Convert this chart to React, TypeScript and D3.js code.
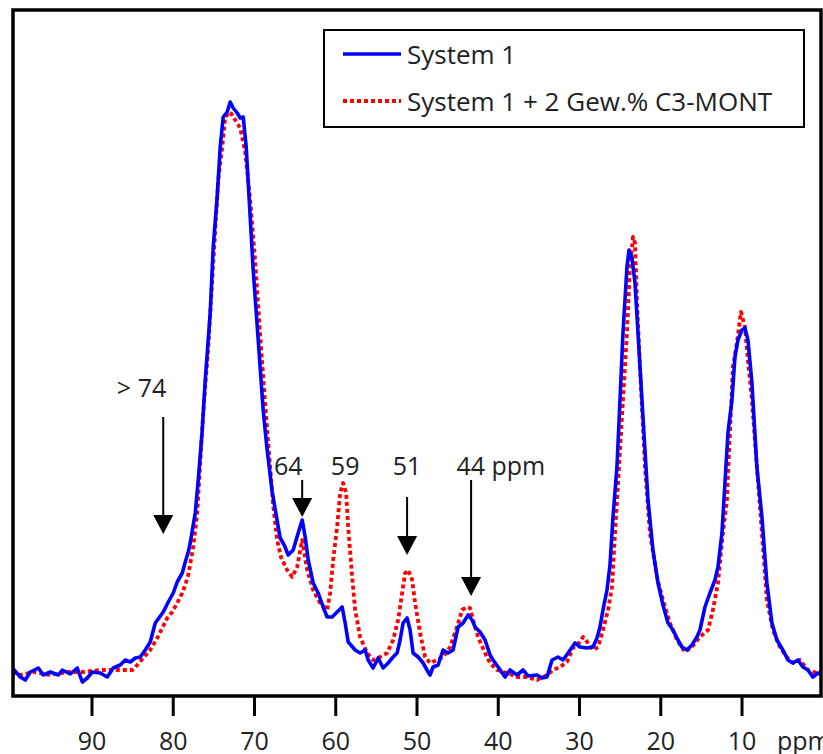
import React from 'react';
import * as d3 from 'd3';

// System 1 (blue, solid) — chemical shift (ppm) and intensity (a.u.)
const system1Ppm = [
  99.8, 98.82, 98.2, 97.59, 96.6, 95.99, 95.13, 94.14, 93.65, 92.67, 91.81, 91.19, 90.58, 89.96, 88.98, 88.12,
  87.38, 86.52, 85.9, 85.29, 84.67, 84.06, 83.44, 82.83, 82.21, 81.23, 80.61, 80.0, 79.51, 78.89, 78.52, 78.15,
  77.91, 77.29, 76.92, 76.43, 76.06, 75.45, 75.08, 74.59, 74.22, 73.85, 73.36, 72.99, 72.62, 72.13, 71.76, 71.39,
  71.02, 70.65, 70.16, 69.54, 68.93, 68.44, 67.82, 67.33, 66.84, 66.34, 65.85, 65.24, 64.62, 64.13, 63.76, 63.39,
  62.78, 62.16, 61.55, 61.06, 60.44, 59.83, 59.21, 58.84, 58.47, 57.61, 57.0, 56.38, 56.01, 55.4, 54.78, 54.17,
  53.55, 52.94, 52.45, 52.08, 51.71, 51.22, 50.85, 50.48, 49.86, 49.25, 48.63, 48.39, 48.02, 47.4, 46.79, 46.17,
  45.56, 44.94, 44.33, 43.71, 43.22, 42.85, 42.24, 41.62, 41.01, 40.64, 40.02, 39.16, 38.55, 37.69, 36.95, 36.33,
  35.23, 34.61, 34.0, 33.38, 32.64, 32.03, 31.41, 30.55, 29.94, 29.08, 28.34, 27.85, 27.48, 27.11, 26.62, 26.25,
  25.88, 25.39, 25.02, 24.65, 24.16, 23.91, 23.54, 23.17, 22.8, 22.19, 21.57, 20.96, 20.34, 19.73, 19.11, 18.5,
  17.88, 17.39, 16.78, 16.16, 15.55, 15.18, 14.56, 13.95, 13.33, 12.96, 12.47, 12.1, 11.73, 11.24, 10.87, 10.5,
  10.01, 9.64, 9.27, 8.78, 8.17, 7.55, 6.94, 6.32, 5.71, 4.97, 4.35, 3.74, 3.12, 2.51, 1.89, 1.28, 0.66, 0.3,
];
const system1Intensity = [
  7, -2, -5, 3, 7, 0, 3, 0, 5, 1, 7, -7, -3, 3, 2, -2,
  7, 10, 15, 13, 17, 18, 25, 33, 52, 63, 73, 82, 93, 102, 113, 123,
  132, 162, 195, 245, 295, 362, 428, 478, 528, 558, 563, 573, 567, 562, 557, 558,
  528, 475, 405, 335, 265, 225, 183, 160, 137, 130, 120, 125, 142, 155, 138, 115,
  92, 82, 68, 58, 58, 63, 68, 52, 33, 25, 22, 25, 15, 7, 17, 7,
  12, 18, 22, 35, 52, 57, 45, 22, 18, 12, 3, 0, 8, 10, 25, 22,
  25, 48, 52, 60, 55, 48, 43, 35, 20, 15, 8, -2, 5, 0, 5, -1,
  0, -3, -2, 15, 18, 15, 22, 32, 28, 27, 28, 37, 48, 65, 85, 110,
  158, 208, 275, 342, 408, 425, 417, 392, 342, 258, 175, 125, 92, 70, 52, 45,
  35, 28, 25, 30, 38, 45, 68, 82, 95, 108, 142, 192, 242, 275, 318, 335,
  345, 347, 335, 292, 208, 158, 92, 52, 35, 25, 15, 12, 15, 8, 5, -2, 2, 1,
];

// System 1 + 2 Gew.% C3-MONT (red, dotted)
const montPpm = [
  99.8, 98.82, 97.22, 95.13, 93.04, 91.07, 88.98, 86.89, 85.04, 84.43, 83.69, 82.83, 81.97, 81.35, 80.74, 80.12,
  79.51, 78.89, 78.52, 78.15, 77.54, 77.05, 76.68, 76.31, 75.69, 75.2, 74.83, 74.46, 73.97, 73.6, 72.99, 72.37,
  71.76, 71.14, 70.53, 69.91, 69.3, 68.68, 68.19, 67.7, 67.21, 66.71, 65.98, 65.36, 64.75, 64.13, 63.52, 62.78,
  61.92, 61.06, 60.69, 60.32, 59.83, 59.46, 59.09, 58.72, 58.47, 57.98, 57.61, 57.0, 56.14, 55.4, 54.54, 53.68,
  52.94, 52.32, 51.83, 51.46, 51.09, 50.6, 50.23, 49.62, 49.0, 48.39, 47.53, 46.79, 45.93, 45.07, 44.45, 43.84,
  43.47, 43.1, 42.48, 41.62, 41.01, 40.15, 38.92, 37.69, 36.46, 35.23, 34.0, 33.26, 32.4, 31.54, 30.8, 29.94,
  29.57, 28.95, 28.34, 27.72, 27.11, 26.49, 26.0, 25.63, 25.14, 24.65, 24.16, 23.79, 23.42, 23.17, 22.93, 22.56,
  21.94, 21.33, 20.47, 19.73, 18.87, 18.01, 17.02, 16.16, 15.18, 14.19, 13.58, 12.96, 12.35, 11.86, 11.49, 11.12,
  10.63, 10.13, 9.64, 9.27, 8.78, 8.17, 7.55, 6.94, 6.2, 5.34, 4.48, 3.74, 2.88, 1.89, 0.79, 0.3,
];
const montIntensity = [
  3, 0, 3, 0, 3, 3, 5, 5, 5, 10, 17, 25, 37, 47, 57, 63,
  72, 82, 90, 100, 128, 162, 212, 262, 328, 395, 445, 495, 528, 558, 563, 555,
  547, 523, 475, 413, 340, 270, 220, 170, 135, 117, 105, 98, 108, 135, 105, 85,
  72, 65, 82, 115, 148, 182, 192, 182, 148, 98, 65, 38, 22, 15, 18, 22,
  35, 55, 82, 102, 105, 95, 72, 42, 18, 12, 15, 18, 28, 48, 65, 68,
  67, 55, 38, 22, 12, 5, 2, -2, -2, -5, 0, 5, 8, 13, 27, 33,
  38, 32, 25, 28, 45, 65, 88, 142, 208, 275, 342, 408, 438, 432, 375, 308,
  208, 142, 98, 75, 52, 35, 23, 28, 38, 45, 65, 92, 142, 175, 242, 308,
  332, 363, 348, 315, 275, 208, 142, 75, 45, 28, 18, 12, 15, 5, 2, 3,
];

const xTicks = [90, 80, 70, 60, 50, 40, 30, 20, 10];
const legendLabels = ['System 1', 'System 1 + 2 Gew.% C3-MONT'];

// annotations: labels and arrows (ppm, intensity)
const annotText = ['> 74', '64', '59', '51', '44 ppm'];
const annotTextPpm = [83.9, 65.85, 58.84, 51.22, 43.3];
const annotTextInt = [278, 200, 200, 200, 200];
const arrowPpm = [81.23, 64.13, 51.22, 43.34];
const arrowTopInt = [258, 195, 178, 195];
const arrowTipInt = [141, 158, 120, 79];

const FONT = '"Open Sans", "Noto Sans", sans-serif';

export default function App() {
  const W = 823;
  const H = 754;
  const frame = { left: 13, right: 821, top: 10, bottom: 696 };

  const x = d3.scaleLinear().domain([99.72, 0.28]).range([13, 821]);
  const y = d3.scaleLinear().domain([0, 600]).range([675, 75]);

  const line = d3
    .line<[number, number]>()
    .x((d) => x(d[0]))
    .y((d) => y(d[1]))
    .curve(d3.curveLinear);

  const s1 = system1Ppm.map((p, i) => [p, system1Intensity[i]] as [number, number]);
  const s2 = montPpm.map((p, i) => [p, montIntensity[i]] as [number, number]);

  const headLen = 19;
  const headHalf = 10;

  return (
    <svg
      width={W}
      height={H}
      style={{ position: 'absolute', left: 0, top: 0, background: '#fff' }}
      fontFamily={FONT}
    >
      <rect x={0} y={0} width={W} height={H} fill="#fff" />
      <defs>
        <clipPath id="plotClip">
          <rect x={frame.left} y={frame.top} width={frame.right - frame.left} height={frame.bottom - frame.top} />
        </clipPath>
      </defs>

      <g clipPath="url(#plotClip)">
        <path d={line(s2) || ''} fill="none" stroke="#ff0000" strokeWidth={3.8} strokeDasharray="4 3" strokeLinejoin="round" />
        <path d={line(s1) || ''} fill="none" stroke="#0000ff" strokeWidth={3.6} strokeLinejoin="round" strokeLinecap="round" />
      </g>

      {/* frame */}
      <rect
        x={frame.left}
        y={frame.top}
        width={frame.right - frame.left}
        height={frame.bottom - frame.top}
        fill="none"
        stroke="#000"
        strokeWidth={3.5}
      />

      {/* x ticks */}
      {xTicks.map((t) => (
        <g key={t}>
          <line x1={x(t)} x2={x(t)} y1={frame.bottom} y2={frame.bottom + 20} stroke="#000" strokeWidth={3} />
          <text x={x(t)} y={750} textAnchor="middle" fontSize={25} fill="#222">
            {t}
          </text>
        </g>
      ))}
      <text x={777} y={750} fontSize={25} fill="#222">
        ppm
      </text>

      {/* annotations */}
      {annotText.map((t, i) => (
        <text
          key={t}
          x={x(annotTextPpm[i])}
          y={y(annotTextInt[i])}
          textAnchor={i === 4 ? 'start' : 'middle'}
          dx={i === 4 ? -15 : 0}
          fontSize={25}
          fill="#222"
        >
          {t}
        </text>
      ))}
      {arrowPpm.map((p, i) => {
        const ax = x(p);
        const yTop = y(arrowTopInt[i]);
        const yTip = y(arrowTipInt[i]);
        return (
          <g key={i}>
            <line x1={ax} x2={ax} y1={yTop} y2={yTip - headLen + 1} stroke="#000" strokeWidth={2} />
            <path
              d={`M${ax - headHalf},${yTip - headLen} L${ax + headHalf},${yTip - headLen} L${ax},${yTip} Z`}
              fill="#000"
            />
          </g>
        );
      })}

      {/* legend */}
      <rect x={324} y={30} width={480} height={97} fill="#fff" stroke="#000" strokeWidth={2} />
      <line x1={343} x2={401} y1={54} y2={54} stroke="#0000ff" strokeWidth={3.6} />
      <line x1={343} x2={401} y1={101} y2={101} stroke="#ff0000" strokeWidth={3.8} strokeDasharray="4 3" />
      <text x={407} y={64} fontSize={26} fill="#222">
        {legendLabels[0]}
      </text>
      <text x={407} y={111} fontSize={26} fill="#222">
        {legendLabels[1]}
      </text>
    </svg>
  );
}
